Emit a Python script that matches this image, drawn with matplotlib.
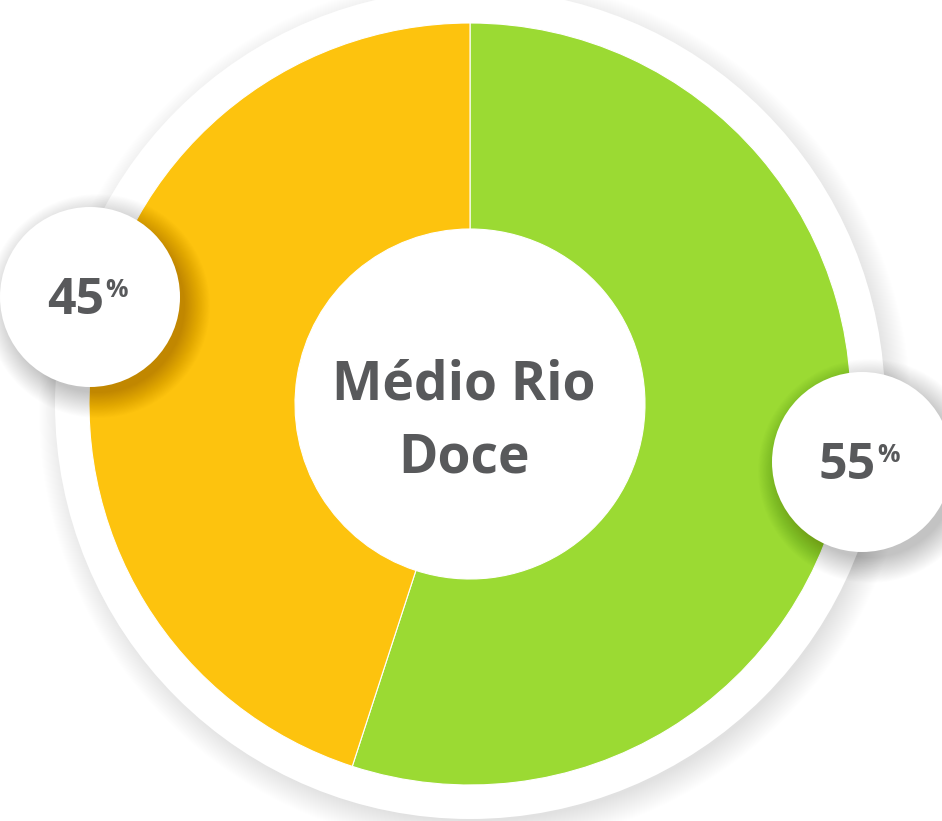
import matplotlib.pyplot as plt
from matplotlib.patches import Circle

# dados
regiao = ["Médio Rio", "Doce"]
rotulos = ["Sim", "Não"]
valores = [55, 45]
cores = ["#9BDA33", "#FDC30E"]
cinza = "#58595B"
fonte = ["Open Sans", "DejaVu Sans"]

W, H = 942, 821
fig = plt.figure(figsize=(W / 100, H / 100), dpi=100)
ax = fig.add_axes([0, 0, 1, 1])

cx, cy = 470, H - 404
r_ext, r_int = 381, 175


def sombra(ax, x, y, r, passos=30, alcance=22, dx=6, dy=-8, alpha=0.006, z=1):
    # sombra suave feita com circulos concentricos transparentes
    for i in range(passos):
        ax.add_patch(Circle((x + dx, y + dy), r + alcance * (i + 1) / passos,
                            color="black", alpha=alpha, lw=0, zorder=z))


# anel branco externo com sombra
sombra(ax, cx, cy, 408, passos=30, alcance=28, dx=5, dy=-8, alpha=0.0035, z=0)
ax.add_patch(Circle((cx, cy), 415, color="white", lw=0, zorder=0.5))

# rosca
wedges, _ = ax.pie(valores, colors=cores, startangle=90, counterclock=False,
                   center=(cx, cy), radius=r_ext, frame=True,
                   wedgeprops=dict(width=r_ext - r_int, edgecolor="white", linewidth=0.8))
for w in wedges:
    w.set_zorder(2)

for linha, yl in zip(regiao, [H - 399, H - 472]):
    ax.text(cx - 6, yl, linha, ha="center", va="baseline", fontsize=38.5,
            fontweight="bold", family=fonte, color=cinza, zorder=5)

# bolhas com as porcentagens
bolhas = [(862, H - 462), (90, H - 297)]
for (bx, by), v in zip(bolhas, valores):
    sombra(ax, bx, by, 86, passos=30, alcance=26, dx=8, dy=-9, alpha=0.0065, z=3)
    ax.add_patch(Circle((bx, by), 90, color="white", lw=0, zorder=4))
    ax.text(bx + 14, by - 17, f"{v}", ha="right", va="baseline", fontsize=36,
            fontweight="bold", family=fonte, color=cinza, zorder=5)
    ax.text(bx + 15, by + 19, "%", ha="left", va="top", fontsize=18,
            fontweight="bold", family=fonte, color=cinza, zorder=5)

ax.set_xlim(0, W)
ax.set_ylim(0, H)
ax.set_aspect("equal")
ax.axis("off")

fig.savefig("out.png", dpi=100, facecolor="white")
